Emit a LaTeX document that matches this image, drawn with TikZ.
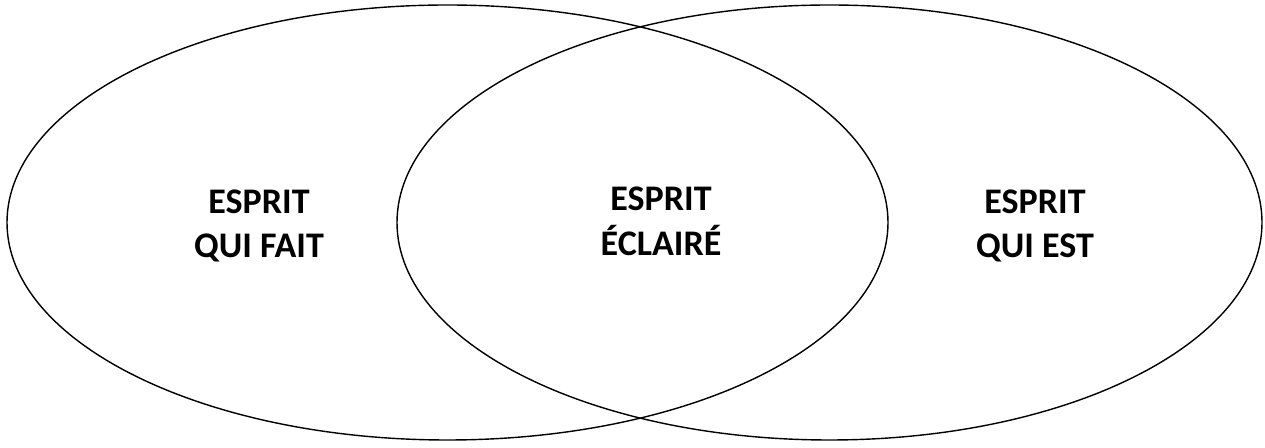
\documentclass[tikz,border=0pt]{standalone}
\usepackage{fontspec}
\setmainfont{Carlito}
\usetikzlibrary{positioning}

\begin{document}
\begin{tikzpicture}[x=0.02cm, y=-0.02cm,
        ring/.style={draw=black, line width=0.8pt},
        label/.style={align=center, font=\fontsize{20.5}{25.5}\selectfont\bfseries, inner sep=0pt}]
        \useasboundingbox (0,0) rectangle (1265,448);
        \draw[ring] (447.5,222.5) ellipse [x radius=440.5, y radius=217.5];
        \draw[ring] (829.5,222.5) ellipse [x radius=432.5, y radius=217.5];
        \node[label] (fait) at (259,226) {ESPRIT\\QUI FAIT};
        \node[label] (eclaire) at (661,221) {ESPRIT\\ÉCLAIRÉ};
        \node[label] (est) at (1035,226) {ESPRIT\\QUI EST};
      \end{tikzpicture}
\end{document}
